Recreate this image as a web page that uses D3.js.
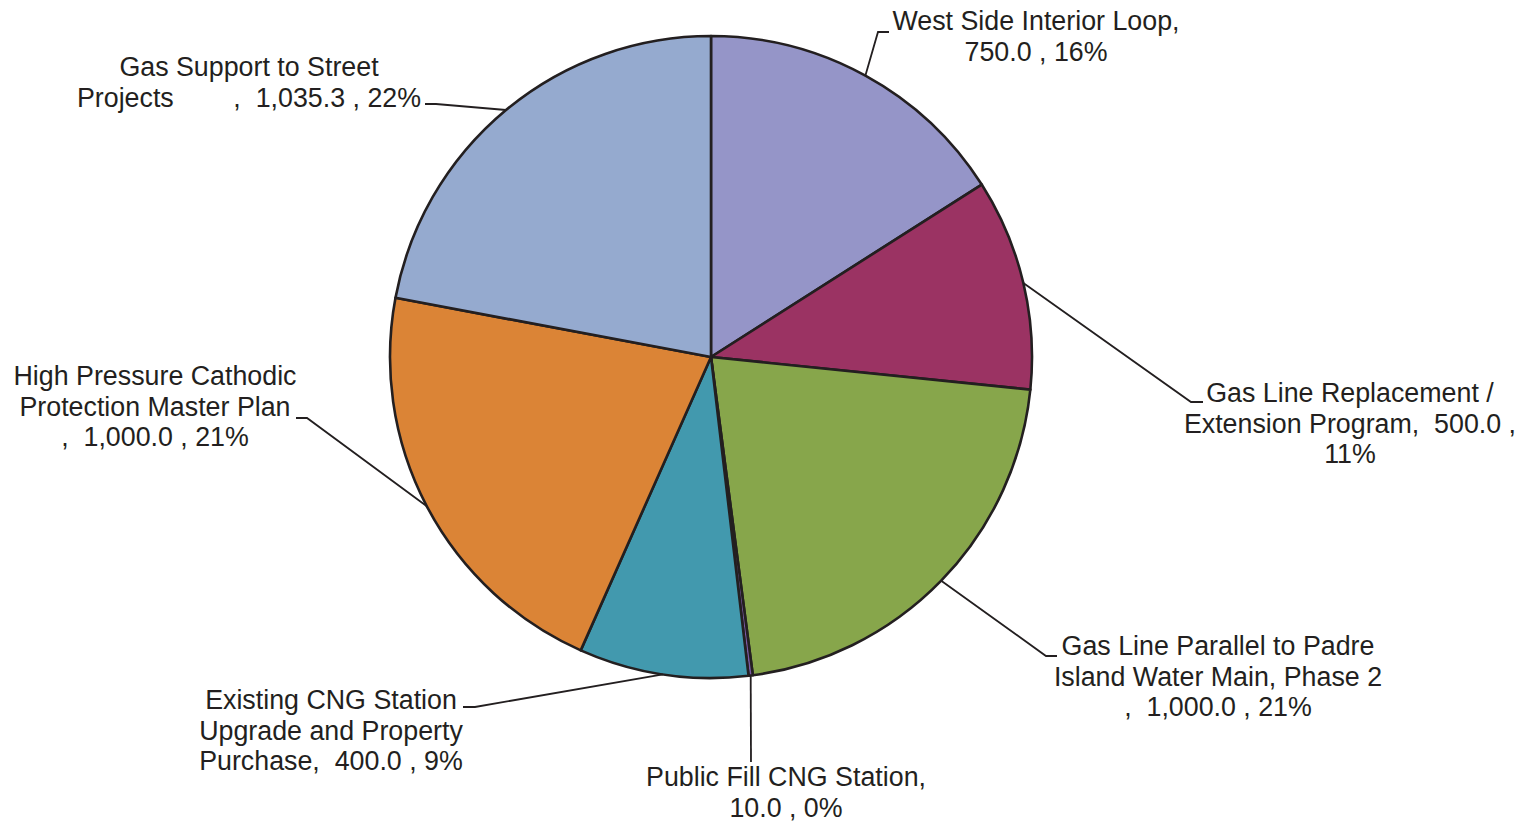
<!DOCTYPE html>
<html>
<head>
<meta charset="utf-8">
<script src="https://cdn.jsdelivr.net/npm/d3@7"></script>
<style>
  html, body { margin: 0; padding: 0; background: #fff; }
  svg text { font-family: "Liberation Sans", Arial, sans-serif; font-size: 26.8px; fill: #231F20; white-space: pre; }
</style>
</head>
<body>
<svg id="chart" width="1524" height="824"></svg>
<script>
// Gas program budget split (clockwise from 12 o'clock)
const categories = [
  "West Side Interior Loop",
  "Gas Line Replacement / Extension Program",
  "Gas Line Parallel to Padre Island Water Main, Phase 2",
  "Public Fill CNG Station",
  "Existing CNG Station Upgrade and Property Purchase",
  "High Pressure Cathodic Protection Master Plan",
  "Gas Support to Street Projects"
];
const values = [750.0, 500.0, 1000.0, 10.0, 400.0, 1000.0, 1035.3];
const colors = ["#9595C8", "#9B3363", "#87A64B", "#7B5BA6", "#4299AE", "#DB8436", "#95AACF"];

// Label text lines, as printed beside each slice
const labelLines = [
  ["West Side Interior Loop,", "750.0 , 16%"],
  ["Gas Line Replacement /", "Extension Program,  500.0 ,", "11%"],
  ["Gas Line Parallel to Padre", "Island Water Main, Phase 2", ",  1,000.0 , 21%"],
  ["Public Fill CNG Station,", "10.0 , 0%"],
  ["Existing CNG Station", "Upgrade and Property", "Purchase,  400.0 , 9%"],
  ["High Pressure Cathodic", "Protection Master Plan", ",  1,000.0 , 21%"],
  ["Gas Support to Street", "Projects        ,  1,035.3 , 22%"]
];

const svg = d3.select("#chart");
const cx = 711, cy = 357, r = 321;
const lineH = 30.7;

// Label block placement: text centre x, first line centre y, leader elbow and hook end
const layout = [
  { x: 1036, y: 21,  elbow: [878, 32],   hook: [889, 32] },
  { x: 1350, y: 393, elbow: [1191, 402], hook: [1203, 402] },
  { x: 1218, y: 646, elbow: [1046, 656], hook: [1057, 656] },
  { x: 786,  y: 777, elbow: [751, 762],  hook: [751, 762] },
  { x: 331,  y: 700, elbow: [475, 707],  hook: [463, 707] },
  { x: 155,  y: 376, elbow: [307, 418],  hook: [296, 418] },
  { x: 249,  y: 67,  elbow: [436, 104],  hook: [425, 104] }
];

const pie = d3.pie().sort(null).value(d => d);
const arcs = pie(values);
const arc = d3.arc().innerRadius(0).outerRadius(r);

const g = svg.append("g").attr("transform", `translate(${cx},${cy})`);

g.selectAll("path.slice")
  .data(arcs)
  .join("path")
  .attr("class", "slice")
  .attr("d", arc)
  .attr("fill", (d, i) => colors[i])
  .attr("stroke", "#231F20")
  .attr("stroke-width", 2.6)
  .attr("stroke-linejoin", "round");

// Leader lines from each slice's mid-angle on the rim
const leaders = svg.append("g");
arcs.forEach((d, i) => {
  const a = (d.startAngle + d.endAngle) / 2;
  const p0 = [cx + r * Math.sin(a), cy - r * Math.cos(a)];
  const L = layout[i];
  leaders.append("polyline")
    .attr("points", [p0, L.elbow, L.hook].map(p => p.join(",")).join(" "))
    .attr("fill", "none")
    .attr("stroke", "#231F20")
    .attr("stroke-width", 1.8);
});

// Labels
const labels = svg.append("g");
labelLines.forEach((lines, i) => {
  const L = layout[i];
  const t = labels.append("text")
    .attr("text-anchor", "middle")
    .attr("dominant-baseline", "central");
  lines.forEach((ln, j) => {
    t.append("tspan")
      .attr("x", L.x)
      .attr("y", L.y + j * lineH)
      .text(ln);
  });
});
</script>
</body>
</html>
